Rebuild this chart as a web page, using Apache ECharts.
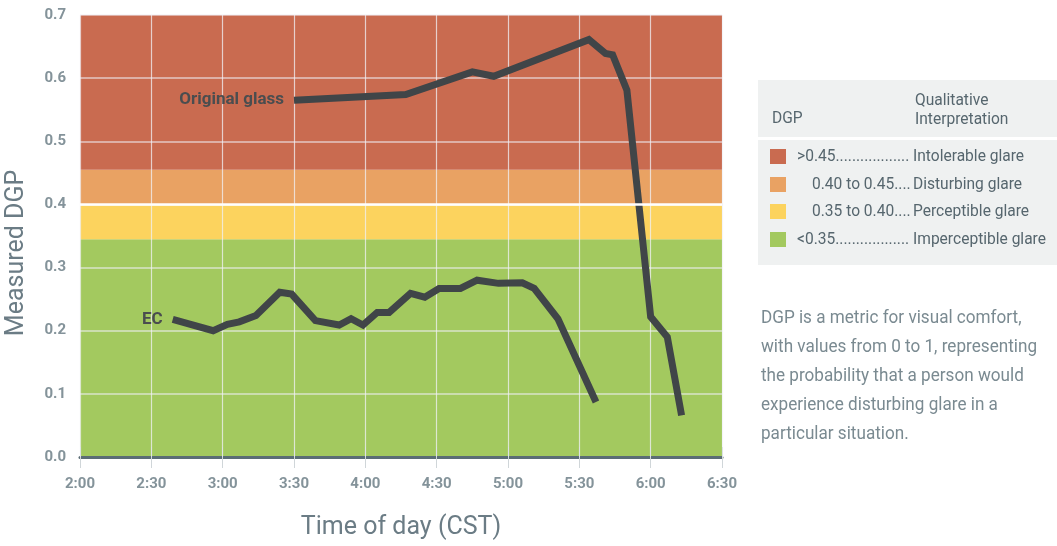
<!DOCTYPE html>
<html>
<head>
<meta charset="utf-8">
<script src="https://cdn.jsdelivr.net/npm/echarts@6/dist/echarts.min.js"></script>
<style>
html,body{margin:0;padding:0;background:#fff;}
#chart{width:1057px;height:546px;}
</style>
</head>
<body>
<div id="chart"></div>
<script>
// ---- data ----
const xTickLabels = ['2:00','2:30','3:00','3:30','4:00','4:30','5:00','5:30','6:00','6:30'];
const ecTimes  = ['2:39','2:56','3:02','3:07','3:14','3:24','3:29','3:39','3:49','3:54','3:59','4:05','4:10','4:19','4:25','4:31','4:40','4:47','4:56','5:06','5:11','5:21','5:37'];
const ecValues = [0.218,0.200,0.210,0.214,0.224,0.261,0.258,0.216,0.209,0.219,0.209,0.229,0.229,0.259,0.253,0.267,0.267,0.280,0.275,0.276,0.267,0.219,0.087];
const glassTimes  = ['3:30','4:17','4:45','4:54','5:34','5:41','5:44','5:50','6:00','6:07','6:13'];
const glassValues = [0.565,0.574,0.610,0.603,0.661,0.639,0.637,0.581,0.222,0.190,0.066];
const bandEdges  = [0, 0.345, 0.40, 0.455, 0.70];
const bandColors = ['#a3c95f', '#fcd35e', '#e9a263', '#c96b50'];
const legendRanges = ['>0.45', '0.40 to 0.45', '0.35 to 0.40', '<0.35'];
const legendLabels = ['Intolerable glare', 'Disturbing glare', 'Perceptible glare', 'Imperceptible glare'];
const legendColors = ['#c96b50', '#e9a263', '#fcd35e', '#a3c95f'];
const noteLines = ['DGP is a metric for visual comfort,', 'with values from 0 to 1, representing', 'the probability that a person would', 'experience disturbing glare in a', 'particular situation.'];

// ---- helpers ----
const FONT = "Roboto, sans-serif";
function toMin(t){ const p = t.split(':').map(Number); return (p[0]-2)*60 + p[1]; }
function pairs(times, vals){ return times.map((t,i)=>[toMin(t), vals[i]]); }
const mctx = document.createElement('canvas').getContext('2d');
function textW(str, font){ mctx.font = font; return mctx.measureText(str).width; }

const ecData = pairs(ecTimes, ecValues);
const glassData = pairs(glassTimes, glassValues);

function withStartLabel(data, text){
  return data.map((d,i)=> i===0 ? {value:d, label:{show:true, position:'left', distance:10, formatter:text,
    color:'#4a4d4f', fontSize:17, fontFamily:FONT, fontWeight:'bold'}} : {value:d});
}

const markAreaData = bandColors.map((c,i)=>[{yAxis:bandEdges[i], itemStyle:{color:c}}, {yAxis:bandEdges[i+1]}]);

// ---- graphic (legend table + note), condensed by horizontal scaling ----
const LEG_FONT = '17px ' + FONT;
const legScale = 133 / textW('Imperceptible glare', LEG_FONT);
const NOTE_FONT = '19px ' + FONT;
const noteScale = Math.min(282 / textW(noteLines[0], NOTE_FONT), 276 / textW(noteLines[1], NOTE_FONT));

function sText(x, y, text, font, fill, scale, extra){
  return {type:'text', x:x, y:y, scaleX:scale, silent:true,
    style:Object.assign({text:text, font:font, fill:fill, verticalAlign:'middle', align:'left'}, extra||{})};
}

const graphics = [];
graphics.push({type:'rect', shape:{x:758, y:80, width:299, height:185}, style:{fill:'#eff1f1'}, silent:true});
graphics.push({type:'rect', shape:{x:758, y:137, width:299, height:3}, style:{fill:'#ffffff'}, silent:true});
graphics.push(sText(772, 119, 'DGP', LEG_FONT, '#56666e', legScale));
graphics.push(sText(915, 101, 'Qualitative', LEG_FONT, '#56666e', legScale));
graphics.push(sText(915, 120, 'Interpretation', LEG_FONT, '#56666e', legScale));
const rowY = [157, 185, 212, 240];
legendRanges.forEach((r,i)=>{
  const y = rowY[i];
  graphics.push({type:'rect', shape:{x:770, y:y-8, width:16, height:15}, style:{fill:legendColors[i]}, silent:true});
  const indent = (i===1||i===2) ? 812 : 797;
  graphics.push(sText(indent, y, r + '.'.repeat(80), LEG_FONT, '#56666e', legScale,
    {width:(913-indent)/legScale, overflow:'truncate', ellipsis:''}));
  graphics.push(sText(913, y, legendLabels[i], LEG_FONT, '#56666e', legScale));
});
noteLines.forEach((t,i)=>{
  graphics.push(sText(761, 318 + i*29, t, NOTE_FONT, '#7a8a91', noteScale));
});

const chart = echarts.init(document.getElementById('chart'), null, {renderer:'canvas'});
chart.setOption({
  animation:false,
  backgroundColor:'#ffffff',
  grid:{left:80, right:335, top:15, bottom:89, containLabel:false, outerBoundsMode:'none'},
  xAxis:[{
    type:'value', min:0, max:270, interval:30, z:2,
    name:'Time of day (CST)', nameLocation:'middle', nameGap:58,
    nameTextStyle:{fontSize:25, color:'#6b7c85', fontFamily:FONT},
    axisLine:{show:true, onZero:false, lineStyle:{color:'#5b6d75', width:3}},
    axisTick:{show:true, length:11, lineStyle:{color:'#d0d6d9', width:1}},
    axisLabel:{margin:20, fontSize:15, color:'#84939a', fontFamily:FONT, fontWeight:'bold',
      formatter:v=>xTickLabels[Math.round(v/30)]},
    splitLine:{show:true, lineStyle:{color:'rgba(240,240,245,0.75)', width:1.2}}
  },{
    type:'value', position:'top', min:0, max:270, interval:30, z:2,
    axisLine:{show:false},
    axisTick:{show:true, length:10, lineStyle:{color:'#dde2e5', width:1}},
    axisLabel:{show:false}, splitLine:{show:false}
  }],
  yAxis:{
    type:'value', min:0, max:0.7, interval:0.1, z:2,
    name:'Measured DGP', nameLocation:'middle', nameGap:51,
    nameTextStyle:{fontSize:25, color:'#6b7c85', fontFamily:FONT, padding:[0,34,0,0]},
    axisLine:{show:false}, axisTick:{show:false},
    axisLabel:{margin:14, fontSize:15, color:'#84939a', fontFamily:FONT, fontWeight:'bold', formatter:v=>v.toFixed(1)},
    splitLine:{show:true, lineStyle:{color:'rgba(240,240,245,0.7)', width:1.5}}
  },
  series:[
    {type:'line', data:[], z:1, silent:true,
      markArea:{silent:true, data:markAreaData},
      markLine:{silent:true, symbol:'none', label:{show:false}, lineStyle:{color:'#ffffff', width:2.5, type:'solid'},
        data:[{yAxis:bandEdges[2]}]}},
    {type:'line', name:'Original glass', data:withStartLabel(glassData,'Original glass'), z:3,
      showSymbol:true, symbol:'circle', symbolSize:0, lineStyle:{color:'#404548', width:7, cap:'butt', join:'miter'},
      itemStyle:{color:'#404548'}, emphasis:{disabled:true}},
    {type:'line', name:'EC', data:withStartLabel(ecData,'EC'), z:3,
      showSymbol:true, symbol:'circle', symbolSize:0, lineStyle:{color:'#404548', width:7, cap:'butt', join:'miter'},
      itemStyle:{color:'#404548'}, emphasis:{disabled:true}}
  ],
  graphic:graphics
});
</script>
</body>
</html>
